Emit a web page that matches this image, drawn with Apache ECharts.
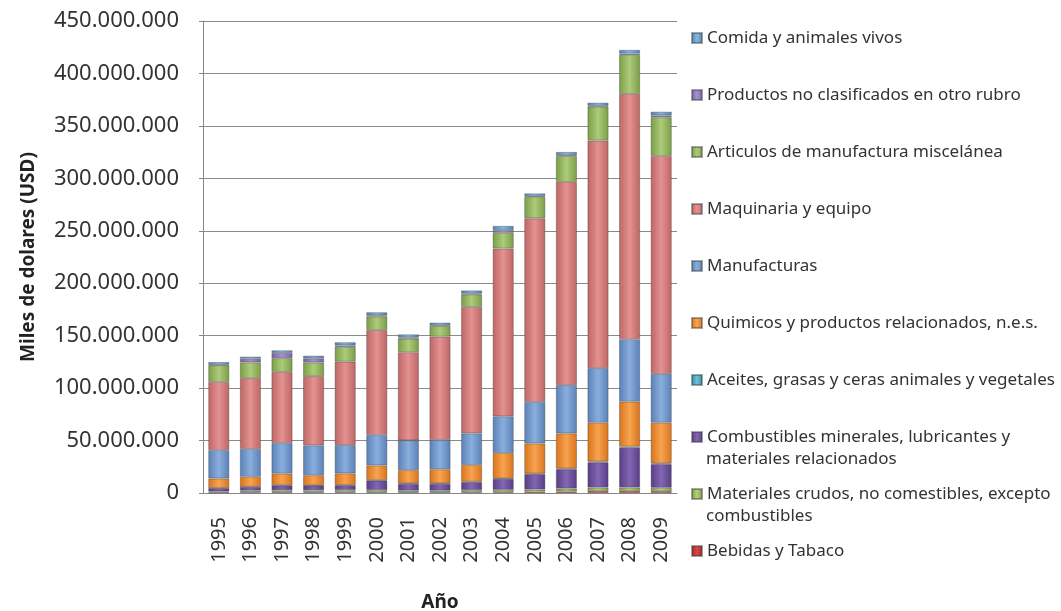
<!DOCTYPE html>
<html>
<head>
<meta charset="utf-8">
<script src="https://cdn.jsdelivr.net/npm/echarts@6/dist/echarts.min.js"></script>
<style>
  html, body { margin: 0; padding: 0; background: #fff; }
  #chart { width: 1061px; height: 611px; }
</style>
</head>
<body>
<div id="chart"></div>
<script>
// años
const years = ['1995','1996','1997','1998','1999','2000','2001','2002','2003','2004','2005','2006','2007','2008','2009']

// valores en millones de miles de USD, orden de apilado de abajo hacia arriba
const bebidas      = [0.5, 0.7, 0.8, 0.8, 0.8, 0.8, 0.7, 0.7, 0.8, 0.8, 1.3, 1.5, 2.0, 2.0, 1.8]
const materiales   = [1.0, 1.5, 1.8, 1.8, 2.0, 2.0, 1.5, 1.5, 2.0, 2.2, 2.0, 2.7, 3.2, 3.2, 3.2]
const combustibles = [3.0, 3.5, 4.5, 4.5, 4.5, 9.0, 6.5, 6.5, 7.5, 10.5, 14.7, 18.5, 24.0, 38.0, 22.5]
const aceites      = [0.3, 0.3, 0.4, 0.3, 0.4, 0.5, 0.5, 0.5, 0.5, 0.6, 0.6, 0.7, 0.8, 1.0, 0.8]
const quimicos     = [9.0, 9.5, 11.0, 9.5, 11.0, 14.0, 12.5, 13.4, 16.0, 24.0, 28.6, 33.4, 37.0, 42.9, 38.7]
const manufacturas = [27.0, 26.5, 29.0, 28.5, 27.0, 29.0, 28.5, 28.0, 30.0, 35.0, 39.6, 46.0, 52.0, 59.5, 46.5]
const maquinaria   = [65.0, 67.5, 68.0, 66.0, 79.5, 100.0, 84.0, 98.5, 120.5, 160.0, 175.0, 193.8, 217.0, 233.9, 207.8]
const articulos    = [16.0, 15.0, 13.0, 13.0, 14.0, 13.0, 13.0, 10.0, 12.0, 15.0, 20.5, 24.5, 32.4, 37.2, 36.9]
const productos    = [0.5, 3.5, 5.0, 4.0, 1.5, 1.0, 1.0, 0.8, 0.8, 2.5, 0.8, 1.0, 0.7, 1.2, 1.8]
const comida       = [2.5, 2.0, 2.5, 2.5, 3.0, 3.0, 3.0, 2.5, 3.0, 4.0, 2.5, 3.0, 3.0, 3.5, 3.5]

const yTicks = [0, 50, 100, 150, 200, 250, 300, 350, 400, 450]

const seriesDefs = [
  { name: 'Bebidas y Tabaco', data: bebidas, c: ['#A8201F', '#D8484A'] },
  { name: 'Materiales crudos, no comestibles, excepto\ncombustibles', data: materiales, c: ['#7D9E3E', '#B2CF78'] },
  { name: 'Combustibles minerales, lubricantes y\nmateriales relacionados', data: combustibles, c: ['#573D85', '#8466B3'] },
  { name: 'Aceites, grasas y ceras animales y vegetales', data: aceites, c: ['#2E8AA6', '#6CC2DA'] },
  { name: 'Quimicos y productos relacionados, n.e.s.', data: quimicos, c: ['#D9731A', '#F7A351'] },
  { name: 'Manufacturas', data: manufacturas, c: ['#5A80B8', '#8AAEDC'] },
  { name: 'Maquinaria y equipo', data: maquinaria, c: ['#BF6464', '#E39292'] },
  { name: 'Articulos de manufactura miscelánea', data: articulos, c: ['#7B9D45', '#ADCB7C'] },
  { name: 'Productos no clasificados en otro rubro', data: productos, c: ['#7660A6', '#A593D0'] },
  { name: 'Comida y animales vivos', data: comida, c: ['#4A86B8', '#86B6DE'] }
]

function grad(c) {
  return new echarts.graphic.LinearGradient(0, 0, 1, 0, [
    { offset: 0, color: c[0] },
    { offset: 0.5, color: c[1] },
    { offset: 1, color: c[0] }
  ])
}

function fmt(v) {
  return String(v * 1000000).replace(/\B(?=(\d{3})+(?!\d))/g, '.')
}

const font = 'Noto Sans, sans-serif'
const legendFont = 17

// una leyenda por elemento para mantener el espaciado uniforme
const legendOrder = seriesDefs.slice().reverse()
const legends = legendOrder.map((s, i) => ({
  data: [s.name],
  left: 691,
  top: 28 + i * 57,
  padding: 0,
  icon: 'rect',
  itemWidth: 10,
  itemHeight: 10,
  selectedMode: false,
  formatter: name => name.split('\n')[0],
  textStyle: { fontFamily: font, fontSize: legendFont, color: '#333', lineHeight: 20 }
}))

// segunda línea de los nombres largos
const extraLines = []
legendOrder.forEach((s, i) => {
  const parts = s.name.split('\n')
  if (parts.length > 1) {
    extraLines.push({
      type: 'text',
      left: 706,
      top: 28 + i * 57 + 24,
      style: { text: parts[1], fontFamily: font, fontSize: legendFont, fill: '#333' }
    })
  }
})

const chart = echarts.init(document.getElementById('chart'))
chart.setOption({
  animation: false,
  textStyle: { fontFamily: font },
  legend: legends,
  graphic: extraLines,
  grid: { left: 203, right: 384, top: 21, bottom: 118, outerBoundsMode: 'none' },
  xAxis: {
    type: 'category',
    data: years,
    name: 'Año',
    nameLocation: 'middle',
    nameGap: 100,
    nameTextStyle: { fontFamily: font, fontSize: 19, fontWeight: 'bold', color: '#222' },
    axisLine: { lineStyle: { color: '#888' } },
    axisTick: { show: false },
    axisLabel: { rotate: 90, fontSize: 20, color: '#333', margin: 24, fontFamily: font }
  },
  yAxis: {
    type: 'value',
    min: yTicks[0],
    max: yTicks[yTicks.length - 1],
    interval: 50,
    name: 'Miles de dolares (USD)',
    nameLocation: 'middle',
    nameGap: 165,
    nameTextStyle: { fontFamily: font, fontSize: 19, fontWeight: 'bold', color: '#222' },
    axisLine: { show: true, lineStyle: { color: '#888' } },
    axisTick: { show: true, length: 4, lineStyle: { color: '#888' } },
    axisLabel: { formatter: fmt, fontSize: 22, color: '#333', margin: 24, fontFamily: font },
    splitLine: { lineStyle: { color: '#8a8a8a', width: 1 } }
  },
  series: seriesDefs.map(s => ({
    name: s.name,
    type: 'bar',
    stack: 'total',
    barWidth: 21,
    data: s.data,
    itemStyle: {
      color: grad(s.c),
      borderColor: 'rgba(60,60,60,0.45)',
      borderWidth: 0.8
    }
  }))
})
</script>
</body>
</html>
